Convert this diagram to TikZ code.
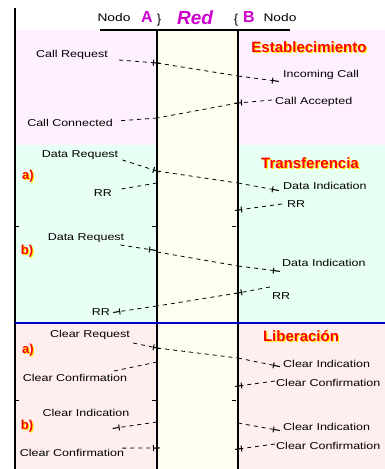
\documentclass[tikz,border=0pt]{standalone}
\usepackage{fontspec}
\setmainfont{Liberation Sans}
\newfontfamily\msgfont[FakeStretch=1.25]{Liberation Sans}
\usetikzlibrary{calc,positioning,arrows.meta}
\definecolor{estabbg}{HTML}{FFF0FF}
\definecolor{transbg}{HTML}{E8FFF4}
\definecolor{liberbg}{HTML}{FFEEEE}
\definecolor{redbg}{HTML}{FFFFF0}
\definecolor{rojo}{HTML}{FF0000}
\definecolor{sombra}{HTML}{FFEE00}
\definecolor{lila}{HTML}{CC00CC}
\definecolor{azul}{HTML}{0000CC}
\tikzset{
  eje/.style={line width=1.3pt},
  msg/.style={font=\msgfont\fontsize{10}{11}\selectfont, inner sep=1pt},
  flujo/.style={dash pattern=on 4pt off 4pt, line width=0.8pt},
  mas/.style={-{Bar[width=6pt,line width=1pt] Square[length=6pt,width=1pt,sep=-3pt]}},
  titulo/.style={font=\bfseries\fontsize{15}{17}\selectfont, text=rojo, inner sep=0pt},
  caso/.style={font=\bfseries\fontsize{13}{15}\selectfont, text=rojo, inner sep=0pt},
  letra/.style={font=\bfseries\fontsize{16}{18}\selectfont, text=lila, inner sep=0pt}
}
% texto rojo con sombra amarilla
\newcommand{\sombreado}[4]{%
  \node[#1, text=sombra] at ($(#3)+(1.2,1.2)$) {#4};
  \node[#1] (#2) at (#3) {#4};}

\begin{document}
\begin{tikzpicture}[x=1pt,y=-1pt]
  \useasboundingbox (0,0) rectangle (385,469);
  % fondos de las fases
  \fill[estabbg] (15,30) rectangle (385,145);
  \fill[transbg] (15,145) rectangle (385,323);
  \fill[liberbg] (15,323) rectangle (385,469);
  \fill[redbg] (157,30) rectangle (238,469);
  % ejes
  \draw[eje] (15,8) -- (15,469);
  \draw[eje] (157,30) -- (157,469);
  \draw[eje] (238,30) -- (238,469);
  \draw[line width=1.3pt, azul] (15,323) -- (385,323);
  \draw[line width=1.8pt] (100,30) -- (290,30);
  \foreach \y in {226,400}{
    \draw[line width=0.8pt] (15,\y) -- (19,\y);
    \draw[line width=0.8pt] (152,\y) -- (157,\y);
    \draw[line width=0.8pt] (232,\y) -- (236,\y);
  }

  % cabecera
  \node[msg, font=\msgfont\fontsize{11}{12}\selectfont] (nodoA) at (114,18) {Nodo};
  \node[letra] (letraA) at (147,17) {A};
  \node[font=\fontsize{13}{13}\selectfont, inner sep=0pt] (llaveA) at (159,20) {\}};
  \node[font=\itshape\bfseries\fontsize{19}{19}\selectfont\rmfamily, text=lila] (red) at (195,18) {Red};
  \node[font=\fontsize{13}{13}\selectfont, inner sep=0pt] (llaveB) at (236,20) {\{};
  \node[letra] (letraB) at (249,17) {B};
  \node[msg, font=\msgfont\fontsize{11}{12}\selectfont] (nodoB) at (280,18) {Nodo};

  % fases
  \coordinate (pEst) at (309,47);
  \coordinate (pTra) at (310,163);
  \coordinate (pLib) at (301,336);
  \sombreado{titulo}{est}{pEst}{Establecimiento}
  \sombreado{titulo}{tra}{pTra}{Transferencia}
  \sombreado{titulo}{lib}{pLib}{Liberación}
  \coordinate (pa1) at (28,176);
  \coordinate (pb1) at (27,251);
  \coordinate (pa2) at (28,350);
  \coordinate (pb2) at (27,426);
  \sombreado{caso}{casoA1}{pa1}{a)}
  \sombreado{caso}{casoB1}{pb1}{b)}
  \sombreado{caso}{casoA2}{pa2}{a)}
  \sombreado{caso}{casoB2}{pb2}{b)}

  % establecimiento
  \node[msg] (callreq) at (72,55) {Call Request};
  \node[msg, anchor=west] (incall) at (282,75) {Incoming Call};
  \node[msg, anchor=west] (callacc) at (274,102) {Call Accepted};
  \node[msg] (callcon) at (70,123) {Call Connected};
  \coordinate (e1a) at (157,63);
  \coordinate (e1b) at (238,76);
  \coordinate (e2b) at (238,103);
  \coordinate (e2a) at (157,118);
  \draw[flujo,mas] ($(callreq.east)+(10,5)$) -- (e1a);
  \draw[flujo] (e1a) -- (e1b);
  \draw[flujo,mas] (e1b) -- ($(incall.west)+(-6,6)$);
  \draw[flujo,mas] ($(callacc.west)+(-2,-2)$) -- (e2b);
  \draw[flujo] (e2b) -- (e2a);
  \draw[flujo] (e2a) -- ($(callcon.east)+(3,-2)$);

  % transferencia a)
  \node[msg] (datreqA) at (80,155) {Data Request};
  \node[msg, anchor=west] (datindA) at (282,186) {Data Indication};
  \node[msg] (rrA1) at (103,193) {RR};
  \node[msg, anchor=west] (rrA2) at (286,204) {RR};
  \coordinate (t1a) at (157,171);
  \coordinate (t1b) at (238,183);
  \coordinate (t2a) at (157,183);
  \coordinate (t2b) at (238,210);
  \draw[flujo,mas] ($(datreqA.east)+(3,5)$) -- (t1a);
  \draw[flujo] (t1a) -- (t1b);
  \draw[flujo,mas] (t1b) -- ($(datindA.west)+(-6,4)$);
  \draw[flujo] (t2a) -- ($(rrA1.east)+(8,-4)$);
  \draw[flujo,mas] ($(rrA2.west)+(-4,0)$) -- (t2b);

  % transferencia b)
  \node[msg] (datreqB) at (86,238) {Data Request};
  \node[msg, anchor=west] (datindB) at (281,263) {Data Indication};
  \node[msg, anchor=west] (rrB2) at (271,296) {RR};
  \node[msg] (rrB1) at (101,312) {RR};
  \coordinate (t3a) at (157,252);
  \coordinate (t3b) at (238,266);
  \coordinate (t4b) at (238,293);
  \coordinate (t4a) at (157,306);
  \draw[flujo,mas] ($(datreqB.east)+(-5,7)$) -- ($(t3a)+(-4,-2)$);
  \draw[flujo] (t3a) -- (t3b);
  \draw[flujo,mas] (t3b) -- ($(datindB.west)+(-4,8)$);
  \draw[flujo,mas] ($(rrB2.west)+(-1,-9)$) -- (t4b);
  \draw[flujo] (t4b) -- (t4a);
  \draw[flujo,mas] (t4a) -- ($(rrB1.east)+(5,0)$);

  % liberacion a)
  \node[msg] (clrreqA) at (90,335) {Clear Request};
  \node[msg, anchor=west] (clrindA) at (282,364) {Clear Indication};
  \node[msg] (clrconA1) at (75,378) {Clear Confirmation};
  \node[msg, anchor=west] (clrconA2) at (275,383) {Clear Confirmation};
  \coordinate (l1a) at (157,348);
  \coordinate (l1b) at (238,358);
  \coordinate (l2a) at (157,362);
  \coordinate (l2b) at (238,386);
  \draw[flujo,mas] ($(clrreqA.east)+(2,8)$) -- (l1a);
  \draw[flujo] (l1a) -- (l1b);
  \draw[flujo,mas] (l1b) -- ($(clrindA.west)+(-5,2)$);
  \draw[flujo] (l2a) -- ($(clrconA1.north east)+(-15,-2)$);
  \draw[flujo,mas] ($(clrconA2.west)+(0,-2)$) -- (l2b);

  % liberacion b)
  \node[msg] (clrindB1) at (86,413) {Clear Indication};
  \node[msg] (clrconB1) at (72,453) {Clear Confirmation};
  \node[msg, anchor=west] (clrindB2) at (282,427) {Clear Indication};
  \node[msg, anchor=west] (clrconB2) at (275,446) {Clear Confirmation};
  \coordinate (l3a) at (157,422);
  \coordinate (l4a) at (157,448);
  \coordinate (l3b) at (238,423);
  \coordinate (l4b) at (238,449);
  \draw[flujo,mas] (l3a) -- ($(clrindB1.east)+(-15,15)$);
  \draw[flujo,mas] ($(clrconB1.north east)+(-3,0)$) -- (l4a);
  \draw[flujo,mas] (l3b) -- ($(clrindB2.west)+(-5,3)$);
  \draw[flujo,mas] ($(clrconB2.west)+(0,-2)$) -- (l4b);
\end{tikzpicture}
\end{document}
